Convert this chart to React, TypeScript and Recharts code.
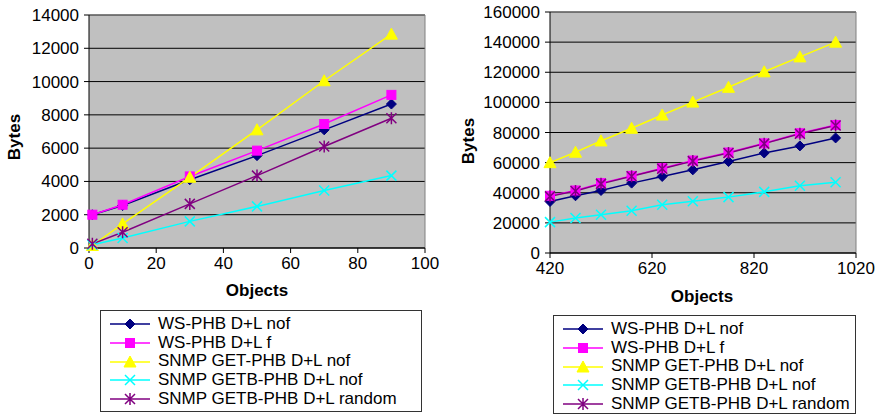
import React from 'react'
import { LineChart, Line, XAxis, YAxis, CartesianGrid, ReferenceLine } from 'recharts'

const SERIES_NAMES = [
  'WS-PHB D+L nof',
  'WS-PHB D+L f',
  'SNMP GET-PHB D+L nof',
  'SNMP GETB-PHB D+L nof',
  'SNMP GETB-PHB D+L random',
]
const SERIES_KEYS = ['wsNof', 'wsF', 'snmpGet', 'snmpGetbNof', 'snmpGetbRandom']
const SERIES_COLORS = ['#000080', '#FF00FF', '#FFFF00', '#00FFFF', '#800080']
const SERIES_SHAPES = ['diamond', 'square', 'triangle', 'x', 'star']

// left chart
const SMALL_OBJECTS = [1, 10, 30, 50, 70, 90]
const SMALL_WS_NOF = [2000, 2550, 4100, 5550, 7100, 8650]
const SMALL_WS_F = [2000, 2600, 4300, 5850, 7450, 9200]
const SMALL_SNMP_GET = [150, 1450, 4250, 7100, 10050, 12850]
const SMALL_GETB_NOF = [200, 600, 1600, 2500, 3450, 4350]
const SMALL_GETB_RANDOM = [250, 950, 2650, 4350, 6100, 7800]
const SMALL_X_TICKS = [0, 20, 40, 60, 80, 100]
const SMALL_Y_TICKS = [0, 2000, 4000, 6000, 8000, 10000, 12000, 14000]

// right chart
const LARGE_OBJECTS = [420, 470, 520, 580, 640, 700, 770, 840, 910, 980]
const LARGE_WS_NOF = [34200, 38000, 41500, 46400, 50800, 55200, 60700, 66400, 71100, 76400]
const LARGE_WS_F = [38000, 41500, 46400, 51200, 56300, 61400, 66700, 72800, 79500, 85000]
const LARGE_SNMP_GET = [60000, 66900, 74400, 82800, 91600, 100200, 110000, 120300, 130200, 140000]
const LARGE_GETB_NOF = [20500, 23200, 25400, 28000, 32000, 34400, 37100, 40600, 44600, 47000]
const LARGE_GETB_RANDOM = [37600, 41100, 45900, 50900, 55900, 61000, 66400, 72600, 79200, 84700]
const LARGE_X_TICKS = [420, 620, 820, 1020]
const LARGE_Y_TICKS = [0, 20000, 40000, 60000, 80000, 100000, 120000, 140000, 160000]

const FONT = '"Liberation Sans", Arial, sans-serif'

function buildRows(xs: number[], series: number[][]) {
  return xs.map((x, i) => {
    const row: Record<string, number> = { x }
    SERIES_KEYS.forEach((k, s) => {
      row[k] = series[s][i]
    })
    return row
  })
}

const smallData = buildRows(SMALL_OBJECTS, [SMALL_WS_NOF, SMALL_WS_F, SMALL_SNMP_GET, SMALL_GETB_NOF, SMALL_GETB_RANDOM])
const largeData = buildRows(LARGE_OBJECTS, [LARGE_WS_NOF, LARGE_WS_F, LARGE_SNMP_GET, LARGE_GETB_NOF, LARGE_GETB_RANDOM])

function Marker({ shape, cx, cy, color }: { shape: string; cx: number; cy: number; color: string }) {
  switch (shape) {
    case 'diamond':
      return <polygon points={`${cx},${cy - 5} ${cx + 5},${cy} ${cx},${cy + 5} ${cx - 5},${cy}`} fill={color} stroke={color} />
    case 'square':
      return <rect x={cx - 4.5} y={cy - 4.5} width={9} height={9} fill={color} stroke={color} />
    case 'triangle':
      return <polygon points={`${cx},${cy - 6} ${cx + 6},${cy + 5} ${cx - 6},${cy + 5}`} fill={color} stroke={color} />
    case 'x':
      return (
        <path d={`M${cx - 5},${cy - 5}L${cx + 5},${cy + 5}M${cx + 5},${cy - 5}L${cx - 5},${cy + 5}`} stroke={color} strokeWidth={1.5} fill="none" />
      )
    default:
      return (
        <path
          d={`M${cx - 5},${cy - 5}L${cx + 5},${cy + 5}M${cx + 5},${cy - 5}L${cx - 5},${cy + 5}M${cx},${cy - 6}L${cx},${cy + 6}`}
          stroke={color}
          strokeWidth={1.5}
          fill="none"
        />
      )
  }
}

function LegendBox({ left, top, width, height }: { left: number; top: number; width: number; height: number }) {
  return (
    <div
      style={{
        position: 'absolute',
        left,
        top,
        width,
        height,
        border: '1px solid #333',
        boxSizing: 'border-box',
        fontFamily: FONT,
        fontSize: 17,
        paddingTop: 4,
        paddingLeft: 9,
        background: '#fff',
      }}
    >
      {SERIES_NAMES.map((name, i) => (
        <div key={name} style={{ display: 'flex', alignItems: 'center', height: 18.7, lineHeight: '18.7px' }}>
          <svg width={44} height={14} style={{ marginRight: 4 }}>
            <line x1={0} y1={7} x2={40} y2={7} stroke={SERIES_COLORS[i]} strokeWidth={1.5} />
            <Marker shape={SERIES_SHAPES[i]} cx={20} cy={7} color={SERIES_COLORS[i]} />
          </svg>
          <span>{name}</span>
        </div>
      ))}
    </div>
  )
}

interface PanelProps {
  data: Record<string, number>[]
  width: number
  height: number
  margin: { top: number; right: number; bottom: number; left: number }
  yWidth: number
  xHeight: number
  xTicks: number[]
  yTicks: number[]
  bytesPos: [number, number]
  objectsPos: [number, number]
}

function Panel({ data, width, height, margin, yWidth, xHeight, xTicks, yTicks, bytesPos, objectsPos }: PanelProps) {
  const xMax = xTicks[xTicks.length - 1]
  const yMax = yTicks[yTicks.length - 1]
  const tick = { fill: '#000', fontSize: 17, fontFamily: FONT }
  return (
    <LineChart width={width} height={height} data={data} margin={margin}>
      <CartesianGrid vertical={false} stroke="#000" fill="#C0C0C0" fillOpacity={1} />
      <XAxis
        dataKey="x"
        type="number"
        domain={[xTicks[0], xMax]}
        ticks={xTicks}
        height={xHeight}
        stroke="#000"
        tick={tick}
        tickSize={5}
        tickMargin={4}
        interval={0}
        label={() => (
          <text x={objectsPos[0]} y={objectsPos[1]} textAnchor="middle" fontFamily={FONT} fontSize={17} fontWeight="bold" fill="#000">
            Objects
          </text>
        )}
      />
      <YAxis
        type="number"
        domain={[0, yMax]}
        ticks={yTicks}
        width={yWidth}
        stroke="#000"
        tick={tick}
        tickSize={5}
        tickMargin={5}
        interval={0}
        label={() => (
          <text
            x={bytesPos[0]}
            y={bytesPos[1]}
            transform={`rotate(-90 ${bytesPos[0]} ${bytesPos[1]})`}
            textAnchor="middle"
            dominantBaseline="central"
            fontFamily={FONT}
            fontSize={17}
            fontWeight="bold"
            fill="#000"
          >
            Bytes
          </text>
        )}
      />
      <ReferenceLine y={yMax} stroke="#808080" />
      <ReferenceLine x={xMax} stroke="#808080" />
      {SERIES_KEYS.map((k, i) => (
        <Line
          key={k}
          dataKey={k}
          name={SERIES_NAMES[i]}
          stroke={SERIES_COLORS[i]}
          strokeWidth={1.5}
          isAnimationActive={false}
          dot={(p: any) => <Marker key={`${k}-${p.index}`} shape={SERIES_SHAPES[i]} cx={p.cx} cy={p.cy} color={SERIES_COLORS[i]} />}
          activeDot={false}
        />
      ))}
    </LineChart>
  )
}

export default function App() {
  return (
    <div style={{ position: 'absolute', left: 0, top: 0, width: 882, height: 415, background: '#fff' }}>
      <div style={{ position: 'absolute', left: 0, top: 0 }}>
        <Panel
          data={smallData}
          width={440}
          height={300}
          margin={{ top: 15, right: 15, bottom: 0, left: 9 }}
          yWidth={80}
          xHeight={52}
          xTicks={SMALL_X_TICKS}
          yTicks={SMALL_Y_TICKS}
          bytesPos={[14, 137]}
          objectsPos={[257, 296]}
        />
      </div>
      <div style={{ position: 'absolute', left: 440, top: 0 }}>
        <Panel
          data={largeData}
          width={442}
          height={312}
          margin={{ top: 12, right: 26, bottom: 12, left: 10 }}
          yWidth={100}
          xHeight={47}
          xTicks={LARGE_X_TICKS}
          yTicks={LARGE_Y_TICKS}
          bytesPos={[28, 141]}
          objectsPos={[262, 302]}
        />
      </div>
      <LegendBox left={100} top={310} width={322} height={102} />
      <LegendBox left={553} top={315} width={303} height={99} />
    </div>
  )
}
